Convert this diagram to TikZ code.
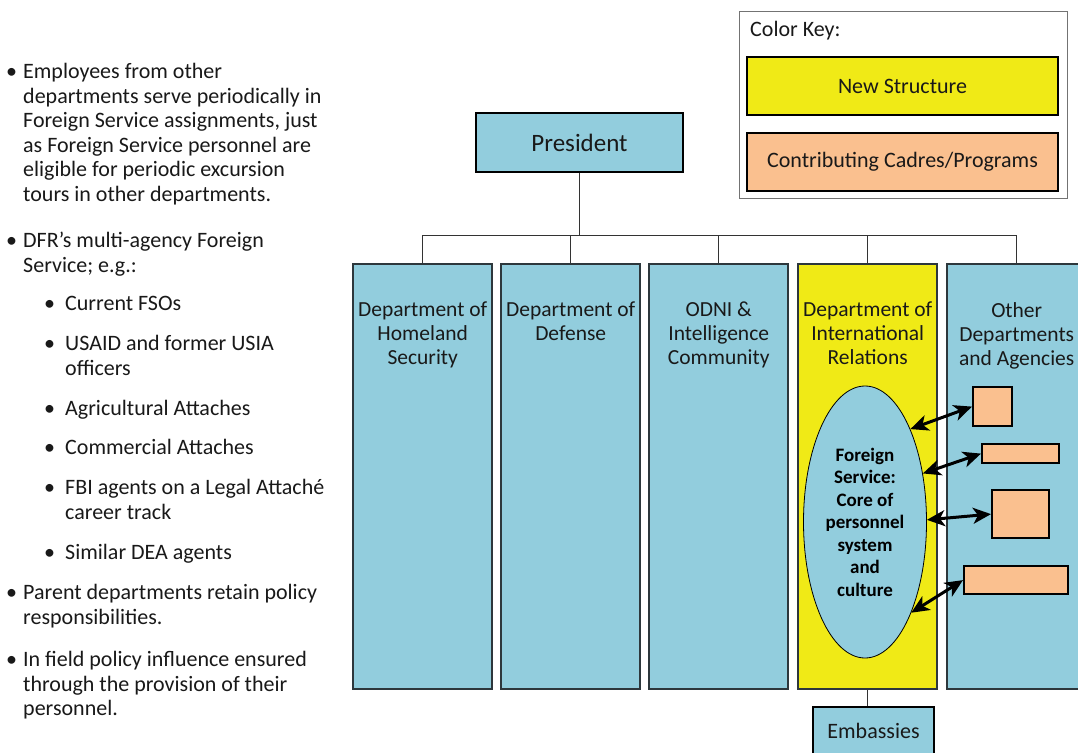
\documentclass[tikz,border=0pt]{standalone}
\usepackage{fontspec}
\setmainfont{Carlito}
\usetikzlibrary{shapes.geometric, arrows.meta, positioning}
\definecolor{deptblue}{RGB}{146, 205, 221}
\definecolor{newyellow}{RGB}{240, 234, 22}
\definecolor{cadreorange}{RGB}{250, 192, 143}
\definecolor{textgray}{RGB}{25, 25, 25}
\definecolor{edgegray}{RGB}{45, 55, 60}

\begin{document}
\begin{tikzpicture}[x=1pt, y=-1pt,
	body/.style={anchor=north west, align=left, inner sep=0pt, text=textgray, font=\fontsize{22}{24.6}\selectfont},
	dept/.style={draw=edgegray, line width=2.4pt, fill=deptblue, anchor=north west, minimum width=\colw pt, minimum height=\colh pt, inner sep=0pt},
	deptlabel/.style={below=39pt, align=center, inner sep=0pt, text=textgray, font=\fontsize{21.5}{24}\selectfont},
	heavybox/.style={draw=black, line width=2.4pt, inner sep=0pt, text=textgray, font=\fontsize{22}{24}\selectfont},
	cadre/.style={draw=black, line width=2.2pt, fill=cadreorange, anchor=north west, inner sep=0pt},
	link/.style={draw=black!80, line width=0.9pt},
	exchange/.style={line width=3pt, >={Stealth[length=18pt,width=16pt,inset=5pt]}, <->}
	]
			\def\colw{139}
			\def\colh{425}
			
			\clip (0,0) rectangle (1078,752);
			\fill[white] (0,0) rectangle (1078,752);
			
			% Bullet text on the left
			\node[body] (b1) at (23,61) {\strut\llap{\textbullet\hspace{6pt}}Employees from other\\departments serve periodically in\\Foreign Service assignments, just\\as Foreign Service personnel are\\eligible for periodic excursion\\tours in other departments.};
			\node[body] (b2) at (23,230) {\strut\llap{\textbullet\hspace{6pt}}DFR’s multi-agency Foreign\\Service; e.g.:};
			\node[body] (s1) at (65,293) {\strut\llap{\textbullet\hspace{10pt}}Current FSOs};
			\node[body] (s2) at (65,333) {\strut\llap{\textbullet\hspace{10pt}}USAID and former USIA\\officers};
			\node[body] (s3) at (65,398) {\strut\llap{\textbullet\hspace{10pt}}Agricultural Attaches};
			\node[body] (s4) at (65,437) {\strut\llap{\textbullet\hspace{10pt}}Commercial Attaches};
			\node[body] (s5) at (65,477) {\strut\llap{\textbullet\hspace{10pt}}FBI agents on a Legal Attaché\\career track};
			\node[body] (s6) at (65,542) {\strut\llap{\textbullet\hspace{10pt}}Similar DEA agents};
			\node[body] (b3) at (23,582) {\strut\llap{\textbullet\hspace{6pt}}Parent departments retain policy\\responsibilities.};
			\node[body] (b4) at (23,649) {\strut\llap{\textbullet\hspace{6pt}}In field policy influence ensured\\through the provision of their\\personnel.};
			
			% Color key
			\node[draw=black!55, line width=1pt, anchor=north west, minimum width=328pt, minimum height=187pt, inner sep=0pt] (key) at (739,11) {};
			\node[anchor=west, inner sep=0pt, text=textgray, font=\fontsize{22}{24}\selectfont] (keytitle) at (750,31) {Color Key:};
			\node[heavybox, fill=newyellow, minimum width=311pt, minimum height=58pt] (knew) at (902.5,86) {New Structure};
			\node[heavybox, fill=cadreorange, minimum width=311pt, minimum height=58pt] (kcad) at (902.5,162) {Contributing Cadres/Programs};
			
			% Organisation tree
			\node[heavybox, fill=deptblue, minimum width=207pt, minimum height=59pt, font=\fontsize{25}{28}\selectfont] (pres) at (579.5,142.5) {President};
			\foreach \i/\x/\c in {1/352/deptblue, 2/500/deptblue, 3/648/deptblue, 4/797/newyellow, 5/946/deptblue}
				\node[dept, fill=\c] (c\i) at (\x,263) {};
			
			\coordinate (bus) at (0,235);
			\draw[link] (pres.south) -- (pres.south |- bus);
			\draw[link] (c1.north |- bus) -- (c5.north |- bus);
			\foreach \i in {1,...,5}
				\draw[link] (c\i.north) -- (c\i.north |- bus);
			
			\node[deptlabel] (l1) at (c1.north) {Department of\\Homeland\\Security};
			\node[deptlabel] (l2) at (c2.north) {Department of\\Defense};
			\node[deptlabel] (l3) at (c3.north) {ODNI \&\\Intelligence\\Community};
			\node[deptlabel] (l4) at (c4.north) {Department of\\International\\Relations};
			\node[deptlabel] (l5) at (c5.north) {Other\\Departments\\and Agencies};
			
			% Foreign Service core and contributing cadres
			\node[ellipse, draw=black, line width=0.8pt, fill=deptblue, minimum width=123pt, minimum height=272pt, inner sep=0pt, align=center, text=black, font=\bfseries\fontsize{19}{22.5}\selectfont] (fs) at (865,522) {Foreign\\Service:\\Core of\\personnel\\system\\and\\culture};
			
			\node[cadre, minimum width=39pt, minimum height=39pt] (k1) at (972,386) {};
			\node[cadre, minimum width=77pt, minimum height=19pt] (k2) at (981,443) {};
			\node[cadre, minimum width=57pt, minimum height=48pt] (k3) at (991,489) {};
			\node[cadre, minimum width=104pt, minimum height=28pt] (k4) at (963,565) {};
			
			\draw[exchange] (fs.64) -- (k1.west);
			\draw[exchange] (fs.40) -- (k2.west);
			\draw[exchange] (fs.2) -- (k3.west);
			\draw[exchange] (fs.-63) -- (k4.west);
			
			\node[heavybox, fill=deptblue, minimum width=121pt, minimum height=48pt] (emb) at (873.5,731) {Embassies};
			\draw[link] (c4.south) -- (c4.south |- emb.north);
			
		\end{tikzpicture}
\end{document}
